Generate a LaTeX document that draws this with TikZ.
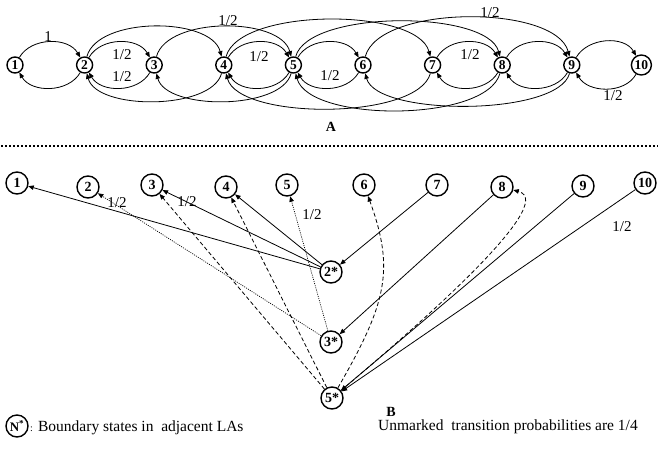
\documentclass[tikz,border=0pt]{standalone}
\usepackage{fontspec}
\setmainfont{Liberation Serif}
\usetikzlibrary{arrows.meta}

\begin{document}
\begin{tikzpicture}[x=1pt,y=1pt,
  every node/.style={font=\fontsize{15}{18}\selectfont},
  stA/.style={draw,circle,line width=1.4pt,inner sep=0pt,minimum size=16pt,
    font=\fontsize{13.5}{15}\selectfont\bfseries},
  stB/.style={draw,circle,line width=1.4pt,inner sep=0pt,minimum size=22pt,
    font=\fontsize{14}{16}\selectfont\bfseries},
  tr/.style={line width=0.8pt,-{Triangle[length=5.5pt,width=4.5pt]}},
  dashtr/.style={tr,dash pattern=on 4pt off 2.5pt},
  dottr/.style={tr,line width=0.7pt,dash pattern=on 1pt off 1.2pt},
  lbl/.style={inner sep=0pt},
  part/.style={font=\fontsize{14}{16}\selectfont\bfseries}
]
\useasboundingbox (0,0) rectangle (658,-453);

% ---------- chain A ----------
\foreach \i/\x in {1/15,2/84.6,3/154.2,4/223.8,5/293.4,6/363,7/432.6,8/502.2,9/571.8}
  \node[stA] (a\i) at (\x,-65) {\i};
\node[stA,minimum size=20pt] (a10) at (641.4,-65) {10};

% neighbour steps above
\draw[tr] (a1) to[out=60,in=120] (a2);
\draw[tr] (a2) to[out=60,in=120] (a3);
\draw[tr] (a4) to[out=60,in=120] (a5);
\draw[tr] (a5) to[out=60,in=120] (a6);
\draw[tr] (a7) to[out=60,in=120] (a8);
\draw[tr] (a8) to[out=60,in=120] (a9);
\draw[tr] (a9) to[out=60,in=120] (a10);
% neighbour steps below
\draw[tr] (a2) to[out=-120,in=-60] (a1);
\draw[tr] (a3) to[out=-120,in=-60] (a2);
\draw[tr] (a5) to[out=-120,in=-60] (a4);
\draw[tr] (a6) to[out=-120,in=-60] (a5);
\draw[tr] (a8) to[out=-120,in=-60] (a7);
\draw[tr] (a9) to[out=-120,in=-60] (a8);
\draw[tr] (a10) to[out=-120,in=-60] (a9);
% long jumps above
\draw[tr] (a2) to[out=75,in=105,looseness=0.79] (a4);
\draw[tr] (a3) to[out=75,in=105,looseness=0.79] (a5);
\draw[tr] (a4) to[out=75,in=105,looseness=0.64] (a7);
\draw[tr] (a5) to[out=75,in=105,looseness=0.61] (a8);
\draw[tr] (a6) to[out=75,in=105,looseness=0.68] (a9);
% long jumps below
\draw[tr] (a4) to[out=-105,in=-75,looseness=0.73] (a2);
\draw[tr] (a5) to[out=-105,in=-75,looseness=0.73] (a3);
\draw[tr] (a7) to[out=-105,in=-75,looseness=0.61] (a4);
\draw[tr] (a8) to[out=-105,in=-75,looseness=0.64] (a5);
\draw[tr] (a9) to[out=-105,in=-75,looseness=0.56] (a6);

% probabilities of chain A
\node[lbl] (pa1) at (48,-37) {1};
\node[lbl] (pa2) at (122,-55) {1/2};
\node[lbl] (pa3) at (122,-77) {1/2};
\node[lbl] (pa4) at (228,-21) {1/2};
\node[lbl] (pa5) at (259,-57) {1/2};
\node[lbl] (pa6) at (330,-76) {1/2};
\node[lbl] (pa7) at (470,-55) {1/2};
\node[lbl] (pa8) at (490,-13) {1/2};
\node[lbl] (pa9) at (613,-96) {1/2};
\node[part] (ta) at (331,-127) {A};

% separator
\draw[line width=1.6pt,dash pattern=on 1.6pt off 2.4pt] (1,-146) -- (658,-146);

% ---------- chain B ----------
\foreach \i/\x/\y in {1/17/183,2/88/187,3/152/185,4/226/187,5/287/185,
                      6/364/185,7/437/185,8/502/187,9/583/186,10/645/183}
  \node[stB] (b\i) at (\x,-\y) {\i};
\node[stB] (s2) at (331,-272) {2*};
\node[stB] (s3) at (331,-342) {3*};
\node[stB] (s5) at (332,-398) {5*};

% from 2*
\draw[tr] (s2) -- (b1);
\draw[tr] (s2) -- (b3);
\draw[tr] (s2) -- (b4);
\draw[tr] (b7) -- (s2);
% from 3*
\draw[dottr] (s3) -- (b2);
\draw[dottr] (s3) -- (b5);
\draw[tr] (b8) -- (s3);
% from 5*
\draw[dashtr] (s5) -- (b3);
\draw[dashtr] (s5) -- (b4);
\draw[dashtr] (s5) .. controls +(60:110) and +(-70:90) .. (b6);
\draw[dashtr] (s5) .. controls +(40:105) and +(-15:60) .. (b8);
\draw[tr] (b9) -- (s5);
\draw[tr] (b10) -- (s5);

% probabilities of chain B
\node[lbl] (pb1) at (117,-203) {1/2};
\node[lbl] (pb2) at (187,-202) {1/2};
\node[lbl] (pb3) at (312,-215) {1/2};
\node[lbl] (pb4) at (622,-227) {1/2};
\node[part] (tb) at (391,-412) {B};

% legend
\node[stB,font=\fontsize{13}{15}\selectfont\bfseries] (key) at (17,-426) {N\textsuperscript{*}};
\node[anchor=west,inner sep=0pt,font=\fontsize{15.5}{18}\selectfont] (keytext) at (30,-428)
  {{\fontsize{10}{12}\selectfont:} Boundary states in\ \ adjacent LAs};
\node[anchor=west,inner sep=0pt,font=\fontsize{15.5}{18}\selectfont] (note) at (378,-427)
  {Unmarked\ \ transition probabilities are 1/4};
\end{tikzpicture}
\end{document}
